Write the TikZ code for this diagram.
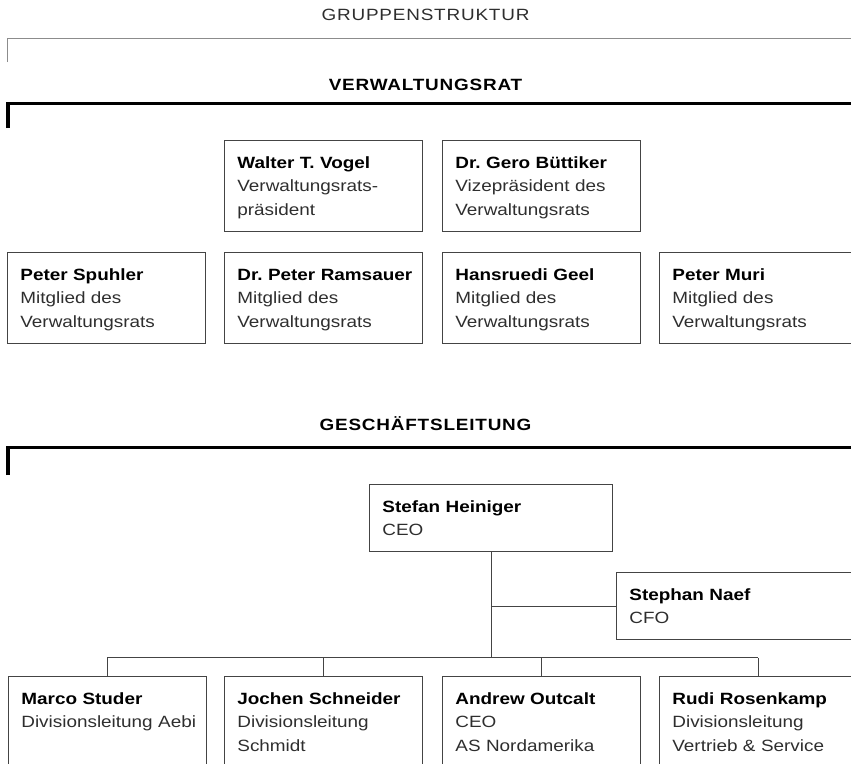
\documentclass[tikz,border=0pt]{standalone}
\usepackage{fontspec}
\setmainfont{Liberation Sans}[FakeStretch=1.16]
\definecolor{boxline}{HTML}{444444}
\definecolor{roletext}{HTML}{2E2E2E}
\definecolor{rulegray}{HTML}{8C8C8C}
\newcommand\pname[1]{\textcolor{black}{\bfseries #1}}
\newcommand\nobreaks{\frenchspacing\hyphenpenalty10000\relax\hbadness10000\relax\hfuzz20pt\relax}
\tikzset{
  person/.style={draw=boxline, line width=0.8pt, anchor=north west, inner xsep=13pt, inner ysep=16pt,
    text width=172pt, minimum width=198pt, minimum height=91pt, text height=12pt, text depth=47pt,
    align=left, text=roletext, font=\fontsize{16.3}{23.3}\selectfont, execute at begin node=\nobreaks},
  short/.style={minimum height=67pt, text depth=23pt},
  heading/.style={anchor=base, inner sep=0pt, font=\fontsize{16.3}{20}\selectfont\addfontfeatures{LetterSpace=5}},
  conn/.style={draw=boxline, line width=0.8pt},
  thinrule/.style={draw=rulegray, line width=0.9pt},
  thickrule/.style={draw=black, line width=3.3pt, line join=miter}
}
\begin{document}
\begin{tikzpicture}[x=1pt,y=-1pt]
\useasboundingbox (0,0) rectangle (851,763);
\node[heading,text=roletext] (gruppe) at (425.5,20.7) {GRUPPENSTRUKTUR};
\draw[thinrule] (7,62) |- (851,38);
\node[heading] (vr) at (425.5,90) {\bfseries VERWALTUNGSRAT};
\draw[thickrule] (8,128) |- (851,103.5);
\node[person] (vogel) at (224,140) {\pname{Walter T. Vogel}\\Verwaltungsrats-\\präsident};
\node[person] (buettiker) at (442,140) {\pname{Dr. Gero Büttiker}\\Vizepräsident des\\Verwaltungsrats};
\node[person] (spuhler) at (7,252) {\pname{Peter Spuhler}\\Mitglied des\\Verwaltungsrats};
\node[person] (ramsauer) at (224,252) {\pname{Dr.~Peter~Ramsauer}\\Mitglied des\\Verwaltungsrats};
\node[person] (geel) at (442,252) {\pname{Hansruedi Geel}\\Mitglied des\\Verwaltungsrats};
\node[person] (muri) at (659,252) {\pname{Peter Muri}\\Mitglied des\\Verwaltungsrats};
\node[heading] (gl) at (425.5,430) {\bfseries GESCHÄFTSLEITUNG};
\draw[thickrule] (8,475) |- (851,447.5);
\node[person,short,text width=217pt,minimum width=243pt] (stefan) at (369,484) {\pname{Stefan Heiniger}\\CEO};
\node[person,short,text width=217pt,minimum width=243pt] (naef) at (616,572) {\pname{Stephan Naef}\\CFO};
\node[person] (studer) at (8,676) {\pname{Marco Studer}\\Divisionsleitung~Aebi};
\node[person] (schneider) at (224,676) {\pname{Jochen Schneider}\\Divisionsleitung\\Schmidt};
\node[person] (outcalt) at (442,676) {\pname{Andrew Outcalt}\\CEO\\AS Nordamerika};
\node[person] (rosenkamp) at (659,676) {\pname{Rudi Rosenkamp}\\Divisionsleitung\\Vertrieb \& Service};
\draw[conn] (stefan.south) -- ++(0,106) coordinate (bus);
\draw[conn] (stefan.south |- naef.west) -- (naef.west);
\draw[conn] (bus -| studer.north) -- (bus -| rosenkamp.north);
\foreach \p in {studer,schneider,outcalt,rosenkamp}
  \draw[conn] (bus -| \p.north) -- (\p.north);
\end{tikzpicture}
\end{document}
